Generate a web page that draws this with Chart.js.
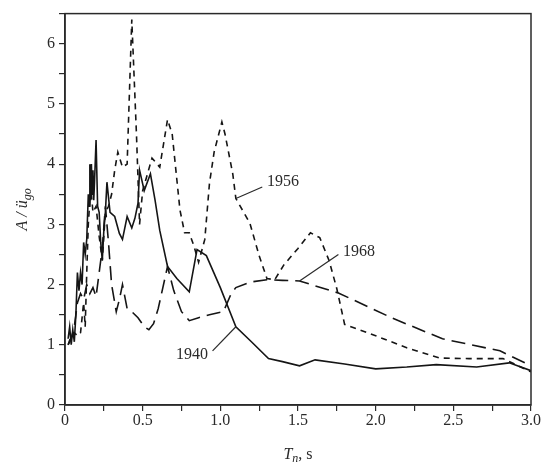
<!DOCTYPE html>
<html>
<head>
<meta charset="utf-8">
<script src="https://cdn.jsdelivr.net/npm/chart.js@4/dist/chart.umd.min.js"></script>
<style>
  html, body { margin: 0; padding: 0; background: #fff; }
  #wrap { width: 546px; height: 474px; }
</style>
</head>
<body>
<div id="wrap"><canvas id="spectrum"></canvas></div>
<script>
// period Tn (s) and normalised amplitude for each record
const x1940 = [0.02,0.03,0.04,0.05,0.06,0.07,0.08,0.09,0.10,0.11,0.12,0.13,0.14,0.15,0.155,0.16,0.165,0.17,0.175,0.18,0.185,0.19,0.20,0.21,0.22,0.23,0.24,0.25,0.26,0.27,0.29,0.32,0.35,0.37,0.40,0.43,0.45,0.47,0.48,0.51,0.55,0.58,0.61,0.66,0.72,0.80,0.85,0.91,1.00,1.10,1.20,1.31,1.40,1.51,1.61,1.80,2.00,2.20,2.39,2.65,2.86,3.00];
const y1940 = [1.10,1.30,1.00,1.25,1.05,1.50,2.20,1.90,2.20,2.00,2.70,2.50,2.75,3.50,3.30,4.00,3.40,4.00,3.50,3.90,3.40,3.70,4.40,3.30,3.20,2.70,2.40,2.90,3.20,3.70,3.20,3.13,2.85,2.75,3.13,2.94,3.10,3.35,3.90,3.56,3.84,3.40,2.90,2.30,2.10,1.88,2.58,2.48,1.95,1.30,1.05,0.77,0.72,0.65,0.75,0.68,0.60,0.63,0.67,0.63,0.70,0.57];

const x1956 = [0.02,0.04,0.06,0.08,0.10,0.12,0.13,0.14,0.15,0.16,0.17,0.18,0.20,0.22,0.24,0.26,0.28,0.30,0.32,0.34,0.37,0.40,0.43,0.46,0.48,0.50,0.56,0.61,0.66,0.69,0.74,0.77,0.80,0.83,0.86,0.90,0.93,0.96,1.01,1.03,1.08,1.10,1.19,1.25,1.30,1.35,1.41,1.50,1.58,1.64,1.70,1.75,1.80,2.00,2.20,2.41,2.60,2.82,3.00];
const y1956 = [1.00,1.15,1.20,1.15,1.20,1.70,1.30,2.20,3.00,3.40,3.50,3.20,3.30,2.80,2.40,3.20,3.30,3.50,3.90,4.20,3.95,4.00,6.40,4.50,3.00,3.56,4.10,3.95,4.74,4.50,3.24,2.86,2.86,2.64,2.37,2.75,3.68,4.20,4.70,4.50,3.84,3.43,3.02,2.48,2.10,2.08,2.33,2.60,2.86,2.78,2.40,1.93,1.34,1.15,0.95,0.78,0.77,0.77,0.55];

const x1968 = [0.02,0.04,0.06,0.08,0.10,0.12,0.14,0.16,0.18,0.20,0.22,0.24,0.26,0.28,0.30,0.33,0.35,0.37,0.40,0.43,0.47,0.51,0.54,0.57,0.60,0.63,0.66,0.70,0.75,0.80,0.86,0.93,1.02,1.07,1.10,1.19,1.30,1.40,1.51,1.76,2.11,2.43,2.80,3.00];
const y1968 = [1.00,1.10,1.30,1.70,1.85,1.75,2.00,1.85,1.95,1.80,2.20,2.60,3.30,2.70,2.00,1.55,1.75,2.00,1.60,1.55,1.45,1.30,1.25,1.35,1.60,1.95,2.30,1.90,1.55,1.40,1.45,1.50,1.55,1.85,1.95,2.04,2.08,2.07,2.06,1.86,1.44,1.10,0.90,0.65];

const yTicks = [0, 1, 2, 3, 4, 5, 6];
const xTicks = ['0', '0.5', '1.0', '1.5', '2.0', '2.5', '3.0'];

// callout labels: text, text anchor, and the curve point the leader touches
const labels = [
  { text: '1956', tx: 1.30, ty: 3.70, align: 'left',  fx: 1.27, fy: 3.62, px: 1.10, py: 3.43 },
  { text: '1968', tx: 1.79, ty: 2.55, align: 'left',  fx: 1.76, fy: 2.50, px: 1.51, py: 2.06 },
  { text: '1940', tx: 0.92, ty: 0.84, align: 'right', fx: 0.95, fy: 0.90, px: 1.10, py: 1.30 }
];

const ink = '#2a2a2a';
const lineInk = '#151515';
const serif = "'Liberation Serif', 'DejaVu Serif', serif";

const toPts = (xs, ys) => xs.map((x, i) => ({ x: x, y: ys[i] }));

const framePlugin = {
  id: 'frame',
  afterDraw(chart) {
    const { ctx, chartArea: a, scales } = chart;
    const sx = scales.x, sy = scales.y;
    ctx.save();
    ctx.strokeStyle = ink;
    ctx.lineWidth = 1.5;
    ctx.strokeRect(a.left, a.top, a.right - a.left, a.bottom - a.top);

    // callouts
    ctx.fillStyle = ink;
    ctx.font = '16px ' + serif;
    ctx.textBaseline = 'middle';
    ctx.lineWidth = 1.2;
    labels.forEach(l => {
      ctx.beginPath();
      ctx.moveTo(sx.getPixelForValue(l.px), sy.getPixelForValue(l.py));
      ctx.lineTo(sx.getPixelForValue(l.fx), sy.getPixelForValue(l.fy));
      ctx.stroke();
      ctx.textAlign = l.align;
      ctx.fillText(l.text, sx.getPixelForValue(l.tx), sy.getPixelForValue(l.ty));
    });

    // y title: A / ü_go
    ctx.save();
    ctx.translate(22, (a.top + a.bottom) / 2);
    ctx.rotate(-Math.PI / 2);
    ctx.textAlign = 'left';
    ctx.textBaseline = 'alphabetic';
    const main = 'A / ü';
    ctx.font = 'italic 16px ' + serif;
    const w1 = ctx.measureText(main).width;
    ctx.font = 'italic 12px ' + serif;
    const w2 = ctx.measureText('go').width;
    let start = -(w1 + w2) / 2;
    ctx.font = 'italic 16px ' + serif;
    ctx.fillText(main, start, 5);
    ctx.font = 'italic 12px ' + serif;
    ctx.fillText('go', start + w1, 9);
    ctx.restore();

    // x title: T_n, s
    ctx.textAlign = 'left';
    ctx.textBaseline = 'alphabetic';
    ctx.font = 'italic 16px ' + serif;
    const tw = ctx.measureText('T').width;
    ctx.font = 'italic 12px ' + serif;
    const nw = ctx.measureText('n').width;
    ctx.font = '16px ' + serif;
    const sw = ctx.measureText(', s').width;
    let xs = (a.left + a.right) / 2 - (tw + nw + sw) / 2;
    const base = 459;
    ctx.font = 'italic 16px ' + serif;
    ctx.fillText('T', xs, base);
    ctx.font = 'italic 12px ' + serif;
    ctx.fillText('n', xs + tw, base + 3);
    ctx.font = '16px ' + serif;
    ctx.fillText(', s', xs + tw + nw, base);
    ctx.restore();
  }
};

const ctx = document.getElementById('spectrum').getContext('2d');

new Chart(ctx, {
  type: 'line',
  data: {
    datasets: [
      { label: '1940', data: toPts(x1940, y1940), borderColor: lineInk, borderWidth: 1.6 },
      { label: '1956', data: toPts(x1956, y1956), borderColor: lineInk, borderWidth: 1.6, borderDash: [6, 5] },
      { label: '1968', data: toPts(x1968, y1968), borderColor: lineInk, borderWidth: 1.6, borderDash: [14, 7] }
    ]
  },
  options: {
    responsive: true,
    maintainAspectRatio: false,
    animation: false,
    layout: { padding: { top: 5, right: 15, left: 0, bottom: 0 } },
    elements: { point: { radius: 0 }, line: { tension: 0 } },
    plugins: { legend: { display: false }, tooltip: { enabled: false } },
    scales: {
      x: {
        type: 'linear',
        min: 0,
        max: 3,
        afterFit(scale) { scale.height = 69; },
        grid: { drawOnChartArea: false, drawTicks: true, tickLength: 6, color: ink, lineWidth: 1.2 },
        border: { display: true, color: ink, width: 1.5 },
        ticks: {
          stepSize: 0.25,
          autoSkip: false,
          maxRotation: 0,
          padding: 0,
          color: ink,
          font: { family: serif, size: 16 },
          callback(v) {
            const k = Math.round(v * 2);
            return Math.abs(v * 2 - k) < 1e-6 ? xTicks[k] : '';
          }
        }
      },
      y: {
        min: 0,
        max: 6.5,
        afterFit(scale) { scale.width = 65; },
        grid: { drawOnChartArea: false, drawTicks: true, tickLength: 6, color: ink, lineWidth: 1.2 },
        border: { display: true, color: ink, width: 1.5 },
        ticks: {
          stepSize: 0.5,
          autoSkip: false,
          padding: 4,
          color: ink,
          font: { family: serif, size: 16 },
          callback(v) {
            return Number.isInteger(v) && yTicks.includes(v) ? String(v) : '';
          }
        }
      }
    }
  },
  plugins: [framePlugin]
});
</script>
</body>
</html>
